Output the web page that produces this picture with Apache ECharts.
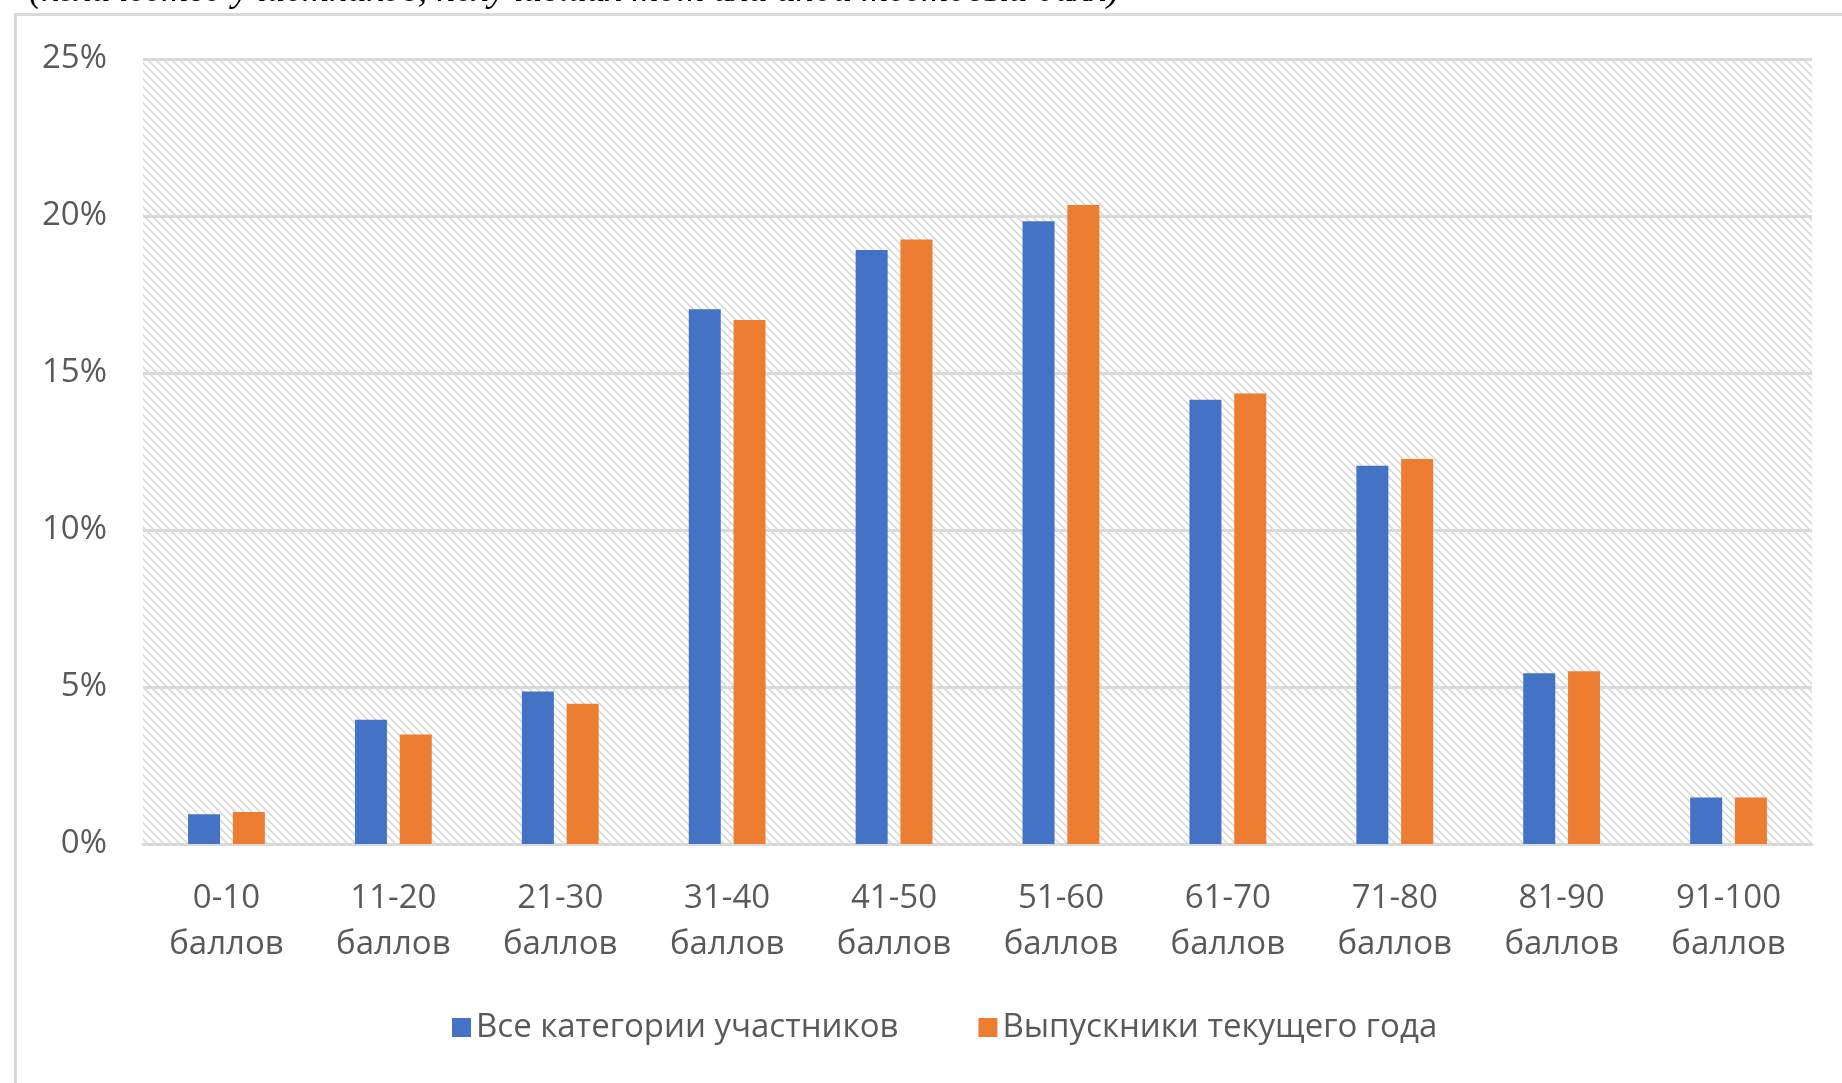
<!DOCTYPE html>
<html>
<head>
<meta charset="utf-8">
<script src="https://cdn.jsdelivr.net/npm/echarts@6/dist/echarts.min.js"></script>
<style>
html,body{margin:0;padding:0;background:#fff;}
#c{width:1842px;height:1083px;}
</style>
</head>
<body>
<div id="c"></div>
<script>
const categories = ['0-10\nбаллов','11-20\nбаллов','21-30\nбаллов','31-40\nбаллов','41-50\nбаллов','51-60\nбаллов','61-70\nбаллов','71-80\nбаллов','81-90\nбаллов','91-100\nбаллов'];
const seriesNames = ['Все категории участников','Выпускники текущего года'];
const allParticipants = [0.95, 3.96, 4.86, 17.03, 18.92, 19.83, 14.15, 12.05, 5.44, 1.48];
const graduates = [1.02, 3.49, 4.47, 16.69, 19.25, 20.35, 14.35, 12.26, 5.50, 1.48];
const yTicks = [0, 5, 10, 15, 20, 25];
const topNote = '(количество участников, получивших тот или иной тестовый балл)';

// hatch pattern
const P = 8;
const pc = document.createElement('canvas');
pc.width = P; pc.height = P;
const ctx = pc.getContext('2d');
ctx.fillStyle = '#ffffff';
ctx.fillRect(0,0,P,P);
ctx.strokeStyle = '#d8d8d8';
ctx.lineWidth = 1.6;
ctx.beginPath();
ctx.moveTo(-2,-2); ctx.lineTo(P+2,P+2);
ctx.moveTo(-P-2,-2); ctx.lineTo(2,P+2);
ctx.moveTo(P-2,-2); ctx.lineTo(2*P+2,P+2);
ctx.stroke();

const chart = echarts.init(document.getElementById('c'));
const txt = '#595959';
const font = '"Open Sans", sans-serif';
chart.setOption({
  animation: false,
  backgroundColor: '#ffffff',
  graphic: [
    {type:'rect', left:13, top:12, shape:{width:1900, height:1200}, style:{fill:'none', stroke:'#d9d9d9', lineWidth:3}, z:-1},
    {type:'text', x:29, y:10, style:{text: topNote, font:'italic 37.5px "Liberation Serif", serif', fill:'#000', textVerticalAlign:'bottom'}}
  ],
  grid: {left:143, right:30, top:59, bottom:239, show:true, backgroundColor:{image:pc, repeat:'repeat'}, borderWidth:0},
  legend: {
    data: seriesNames, left: 447, top: 1006, itemWidth: 19, itemHeight: 19, itemGap: 80,
    icon: 'rect',
    textStyle: {color: txt, fontSize: 33, fontFamily: font}
  },
  xAxis: {
    type: 'category', data: categories,
    axisLine: {lineStyle: {color: '#d9d9d9', width: 3}},
    axisTick: {show: false},
    axisLabel: {color: txt, fontSize: 33, fontFamily: font, lineHeight: 46, margin: 32, interval: 0}
  },
  yAxis: {
    type: 'value', min: yTicks[0], max: yTicks[yTicks.length-1], interval: 5,
    axisLine: {show: false}, axisTick: {show: false},
    splitLine: {lineStyle: {color: '#d9d9d9', width: 3}},
    axisLabel: {color: txt, fontSize: 33, fontFamily: font, margin: 36, formatter: '{value}%'}
  },
  series: [
    {name: seriesNames[0], type: 'bar', data: allParticipants, barWidth: 32, barGap: '40%', itemStyle: {color: '#4472C4'}},
    {name: seriesNames[1], type: 'bar', data: graduates, barWidth: 32, barGap: '40%', itemStyle: {color: '#ED7D31'}}
  ]
});
</script>
</body>
</html>
